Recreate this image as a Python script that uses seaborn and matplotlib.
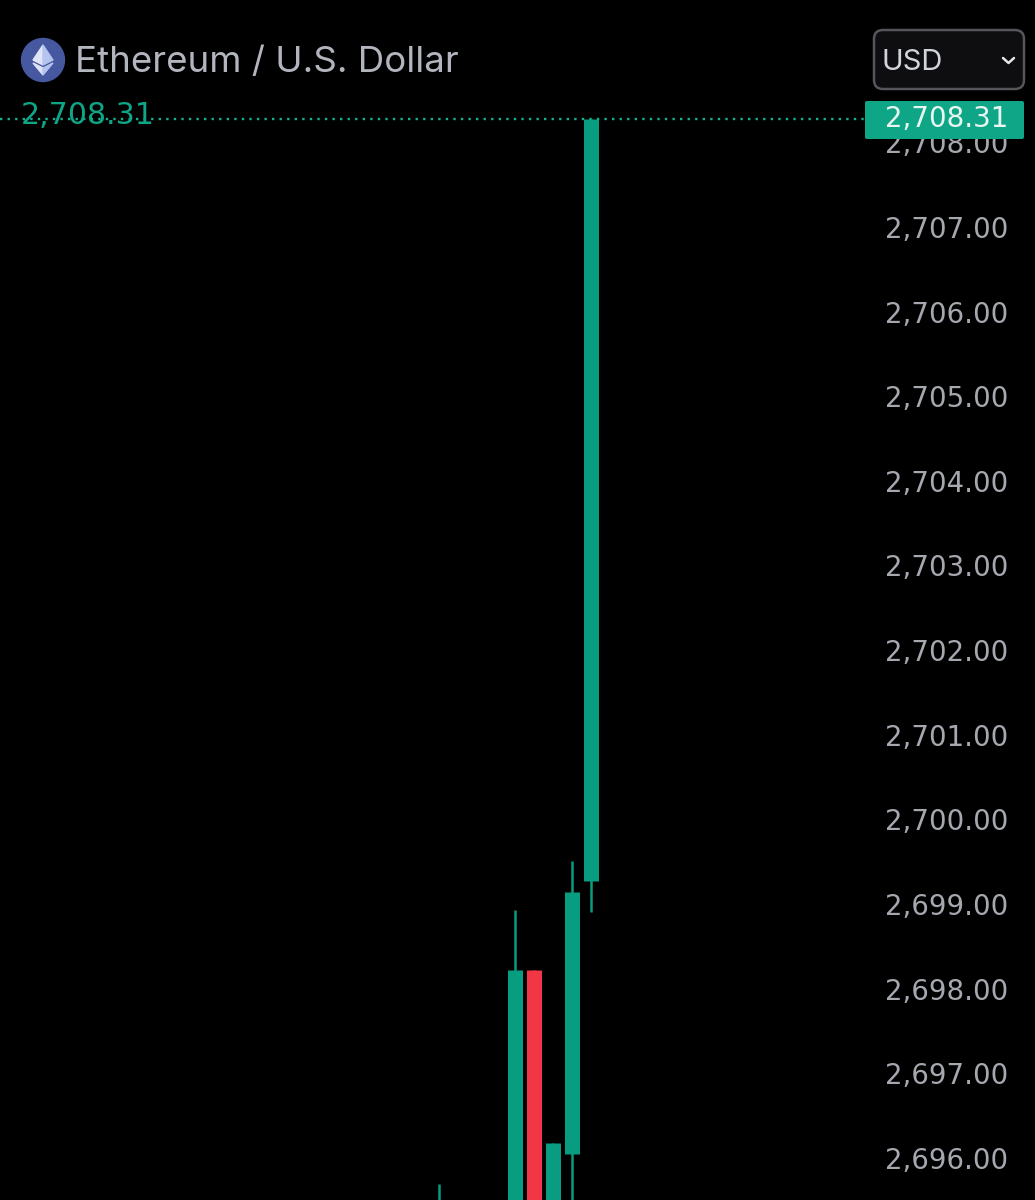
import pandas as pd
import matplotlib
matplotlib.use('Agg')
import matplotlib.pyplot as plt
import seaborn as sns
from matplotlib.patches import Circle, FancyBboxPatch, Polygon
from matplotlib.transforms import ScaledTranslation

# Candles (lows/opens under the crop are estimates)
candle_index = [0, 4, 5, 6, 7, 8]
open_prices = [2695.00, 2695.20, 2698.26, 2695.30, 2696.08, 2699.31]
close_prices = [2695.30, 2698.26, 2695.30, 2696.21, 2699.18, 2708.31]
high_prices = [2695.73, 2698.96, 2698.26, 2696.21, 2699.54, 2708.31]
low_prices = [2694.80, 2695.00, 2695.20, 2695.20, 2695.20, 2698.94]

tick_values = [2696, 2697, 2698, 2699, 2700, 2701, 2702, 2703, 2704, 2705,
               2706, 2707, 2708]
last_price = 2708.31

title_text = 'Ethereum / U.S. Dollar'
currency_text = 'USD'

UP = '#089c80'
DOWN = '#f23645'
GREY = '#a6a8b0'
NUMBER_FONT = 'DejaVu Sans'

sns.set_theme(style='dark')
plt.rcParams['font.family'] = ['Inter', 'DejaVu Sans']


def build_frames():
    # one frame for the wicks, one for the bodies, two rows per candle
    wicks = []
    bodies = []
    for i, o, c, h, l in zip(candle_index, open_prices, close_prices,
                             high_prices, low_prices):
        direction = 'up' if c >= o else 'down'
        wicks += [(i, l, direction), (i, h, direction)]
        bodies += [(i, o, direction), (i, c, direction)]
    cols = ['candle', 'price', 'direction']
    return pd.DataFrame(wicks, columns=cols), pd.DataFrame(bodies, columns=cols)


def draw_candles(ax):
    wicks, bodies = build_frames()
    palette = {'up': UP, 'down': DOWN}
    sns.lineplot(data=wicks, x='candle', y='price', hue='direction',
                 units='candle', estimator=None, palette=palette,
                 linewidth=1.8, legend=False, ax=ax, solid_capstyle='butt')
    sns.lineplot(data=bodies, x='candle', y='price', hue='direction',
                 units='candle', estimator=None, palette=palette,
                 linewidth=10.8, legend=False, ax=ax, solid_capstyle='butt')


def draw_overlay(fig):
    # header bits, laid out in pixels of the screenshot
    over = fig.add_axes([0, 0, 1, 1])
    over.set_xlim(0, 1035)
    over.set_ylim(1200, 0)
    over.axis('off')

    # coin icon
    over.add_patch(Circle((43, 60), 21.5, color='#4558a0'))
    over.add_patch(Polygon([(43, 45), (33, 60), (43, 65)], color='#dfe5f7'))
    over.add_patch(Polygon([(43, 45), (53, 60), (43, 65)], color='#b4c4ee'))
    over.add_patch(Polygon([(33, 63), (43, 75), (43, 68)], color='#dfe5f7'))
    over.add_patch(Polygon([(53, 63), (43, 75), (43, 68)], color='#b4c4ee'))

    over.text(75, 62, title_text, color='#b2b5be', fontsize=26.4, va='center',
              ha='left')
    over.text(21, 115, f'{last_price:,.2f}', color='#0fa587', fontsize=21.6,
              va='center', ha='left', family=NUMBER_FONT)

    # currency select
    over.add_patch(FancyBboxPatch((874, 30), 150, 59,
                                  boxstyle='round,pad=0,rounding_size=9',
                                  facecolor='#0e0e10', edgecolor='#55565a',
                                  linewidth=1.8))
    over.text(882, 62, currency_text, color='#d1d4dc', fontsize=21,
              va='center', ha='left')
    over.plot([1003, 1008.5, 1014], [58, 63, 58], color='#e4e4e8',
              linewidth=1.8)

    # price tag
    over.add_patch(FancyBboxPatch((865, 101), 159, 38,
                                  boxstyle='round,pad=0,rounding_size=2',
                                  facecolor='#0fa587', edgecolor='none'))
    over.text(885, 119, f'{last_price:,.2f}', color='#e8f6f2', fontsize=19.9,
              va='center', ha='left', family=NUMBER_FONT)


def main():
    fig = plt.figure(figsize=(10.35, 12), dpi=100, facecolor='black')
    ax = fig.add_axes([0, 0, 1, 1], facecolor='black')

    draw_candles(ax)
    ax.axhline(last_price, color='#14b08f', linestyle=(0, (1, 2.2)),
               linewidth=1.7, xmax=865 / 1035)

    ax.set_xlim(-439 / 19.06, (1035 - 439) / 19.06)
    ax.set_ylim(last_price - 1081 / 84.64, last_price + 119 / 84.64)
    ax.set_xticks([])
    ax.set_xlabel('')
    ax.set_ylabel('')
    ax.grid(False)
    ax.yaxis.tick_right()
    ax.set_yticks(tick_values)
    ax.set_yticklabels([f'{v:,.2f}' for v in tick_values], color=GREY,
                       fontsize=19.9, family=NUMBER_FONT)
    ax.tick_params(axis='y', length=0, pad=-107.8)

    # labels sit a little above their price level in the app
    nudge = ScaledTranslation(0, 3 / 100, fig.dpi_scale_trans)
    for label in ax.get_yticklabels():
        label.set_transform(label.get_transform() + nudge)

    for spine in ax.spines.values():
        spine.set_visible(False)

    draw_overlay(fig)
    fig.savefig('out.png', dpi=100, facecolor='black')


if __name__ == "__main__":
    main()
